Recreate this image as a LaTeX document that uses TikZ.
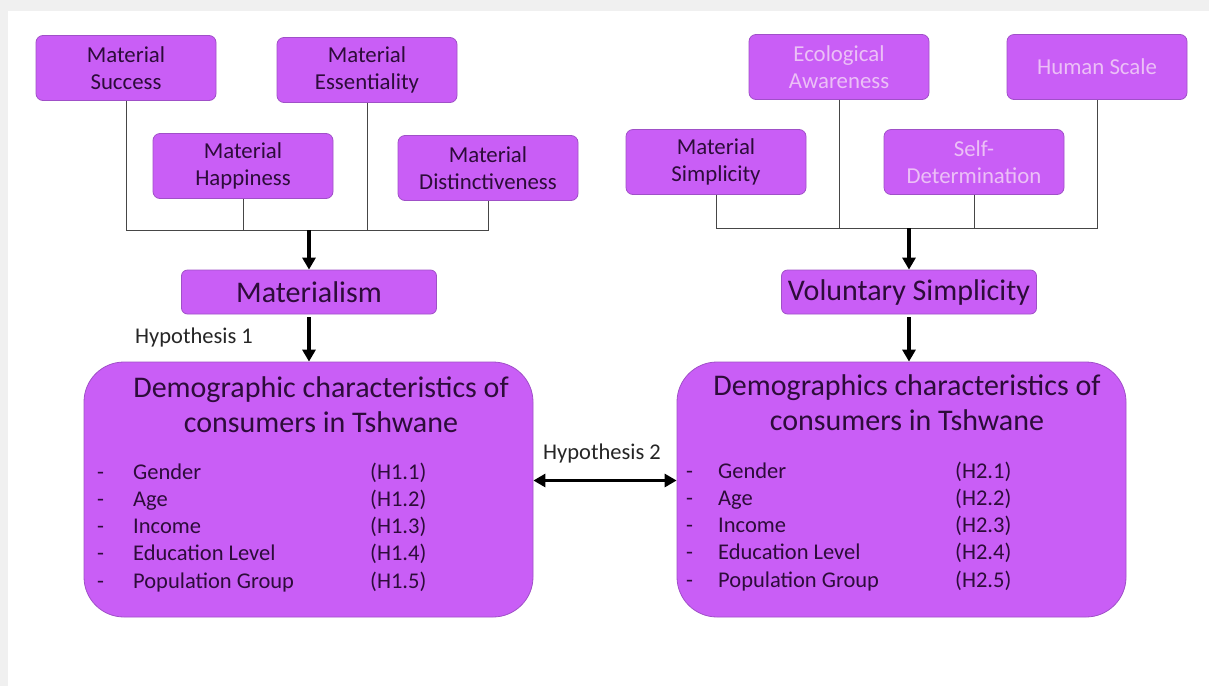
\documentclass[tikz,border=0pt]{standalone}
\usepackage{fontspec}
\setmainfont{Carlito}
\usetikzlibrary{arrows.meta}
\definecolor{boxfill}{RGB}{201,94,246}
\definecolor{boxline}{RGB}{160,80,200}
\definecolor{boxtext}{RGB}{45,12,58}
\definecolor{softtext}{RGB}{236,192,246}
\definecolor{busline}{RGB}{70,70,70}
\definecolor{framegray}{RGB}{240,240,240}
\begin{document}
\begin{tikzpicture}[x=1pt, y=-1pt,
                    dimbox/.style={rounded corners=7pt, draw=boxline, line width=0.8pt, fill=boxfill, text=boxtext, align=center, minimum width=180pt, minimum height=65pt, inner sep=2pt, font=\fontsize{22.8}{27}\selectfont},
                    construct/.style={rounded corners=6pt, draw=boxline, line width=0.8pt, fill=boxfill, text=boxtext, minimum width=255pt, minimum height=44pt, inner sep=2pt, font=\fontsize{30}{34}\selectfont},
                    demobox/.style={rounded corners=40pt, draw=boxline, line width=0.8pt, fill=boxfill, minimum width=449pt, minimum height=255pt},
                    title/.style={align=center, text=boxtext, font=\fontsize{30}{35}\selectfont},
                    items/.style={anchor=base west, inner sep=0pt, text=boxtext, font=\fontsize{22.5}{27.3}\selectfont},
                    hyp/.style={text=black!85, font=\fontsize{22.5}{26}\selectfont},
                    bus/.style={draw=busline, line width=0.9pt},
                    mainarrow/.style={line width=3.4pt, -{Triangle[length=12pt,width=13pt]}}]
\useasboundingbox (0,0) rectangle (1209,686);
\fill[framegray] (0,0) rectangle (1209,686);
\fill[white] (8,11) rectangle (1209,686);

% materialism side
\node[dimbox] (success) at (126,68) {Material\\Success};
\node[dimbox] (essential) at (367,70) {Material\\Essentiality};
\node[dimbox] (happy) at (243,166) {Material\\Happiness};
\node[dimbox] (distinct) at (488,168) {Material\\Distinctiveness};
\node[construct] (mat) at (309,292) {Materialism};
\node[hyp] (hyp1) at (194,337) {Hypothesis 1};
\node[demobox] (demoL) at (308.5,489.5) {};
\node[title] (titleL) at (321,405) {Demographic characteristics of\\consumers in Tshwane};
\node[items] (listL) at (97,479)
{
\begin{tabular}[t]{@{}p{24pt}p{225pt}l@{}}
- & Gender & (H1.1) \\
- & Age & (H1.2) \\
- & Income & (H1.3) \\
- & Education Level & (H1.4) \\
- & Population Group & (H1.5)
\end{tabular}
};

% voluntary simplicity side
\node[dimbox] (simple) at (716,162) {Material\\Simplicity};
\node[dimbox, text=softtext] (eco) at (839,67) {Ecological\\Awareness};
\node[dimbox, text=softtext] (selfdet) at (974,162) {Self-\\Determination};
\node[dimbox, text=softtext] (human) at (1097,67) {Human Scale};
\node[construct] (vol) at (909,292) {Voluntary Simplicity};
\node[demobox] (demoR) at (901.5,489.5) {};
\node[title] (titleR) at (907,403) {Demographics characteristics of\\consumers in Tshwane};
\node[items] (listR) at (686,478)
{
\begin{tabular}[t]{@{}p{20pt}p{225pt}l@{}}
- & Gender & (H2.1) \\
- & Age & (H2.2) \\
- & Income & (H2.3) \\
- & Education Level & (H2.4) \\
- & Population Group & (H2.5)
\end{tabular}
};
\node[hyp] (hyp2) at (602,453) {Hypothesis 2};

% connectors
\coordinate (busL) at (309,230);
\draw[bus] (success.south) -- (success.south |- busL) -- (distinct.south |- busL) -- (distinct.south);
\draw[bus] (happy.south) -- (happy.south |- busL);
\draw[bus] (essential.south) -- (essential.south |- busL);
\draw[mainarrow] (busL) -- (busL |- mat.north);
\draw[mainarrow, shorten <=3pt] (mat.south) -- (mat.south |- demoL.north);

\coordinate (busR) at (909,228);
\draw[bus] (simple.south) -- (simple.south |- busR) -- (human.south |- busR) -- (human.south);
\draw[bus] (eco.south) -- (eco.south |- busR);
\draw[bus] (selfdet.south) -- (selfdet.south |- busR);
\draw[mainarrow] (busR) -- (busR |- vol.north);
\draw[mainarrow, shorten <=3pt] (vol.south) -- (vol.south |- demoR.north);

\draw[line width=3.4pt, {Triangle[length=12pt,width=13pt]}-{Triangle[length=12pt,width=13pt]}] ([yshift=9pt]demoL.east) -- ([yshift=9pt]demoR.west);
\end{tikzpicture}
\end{document}
